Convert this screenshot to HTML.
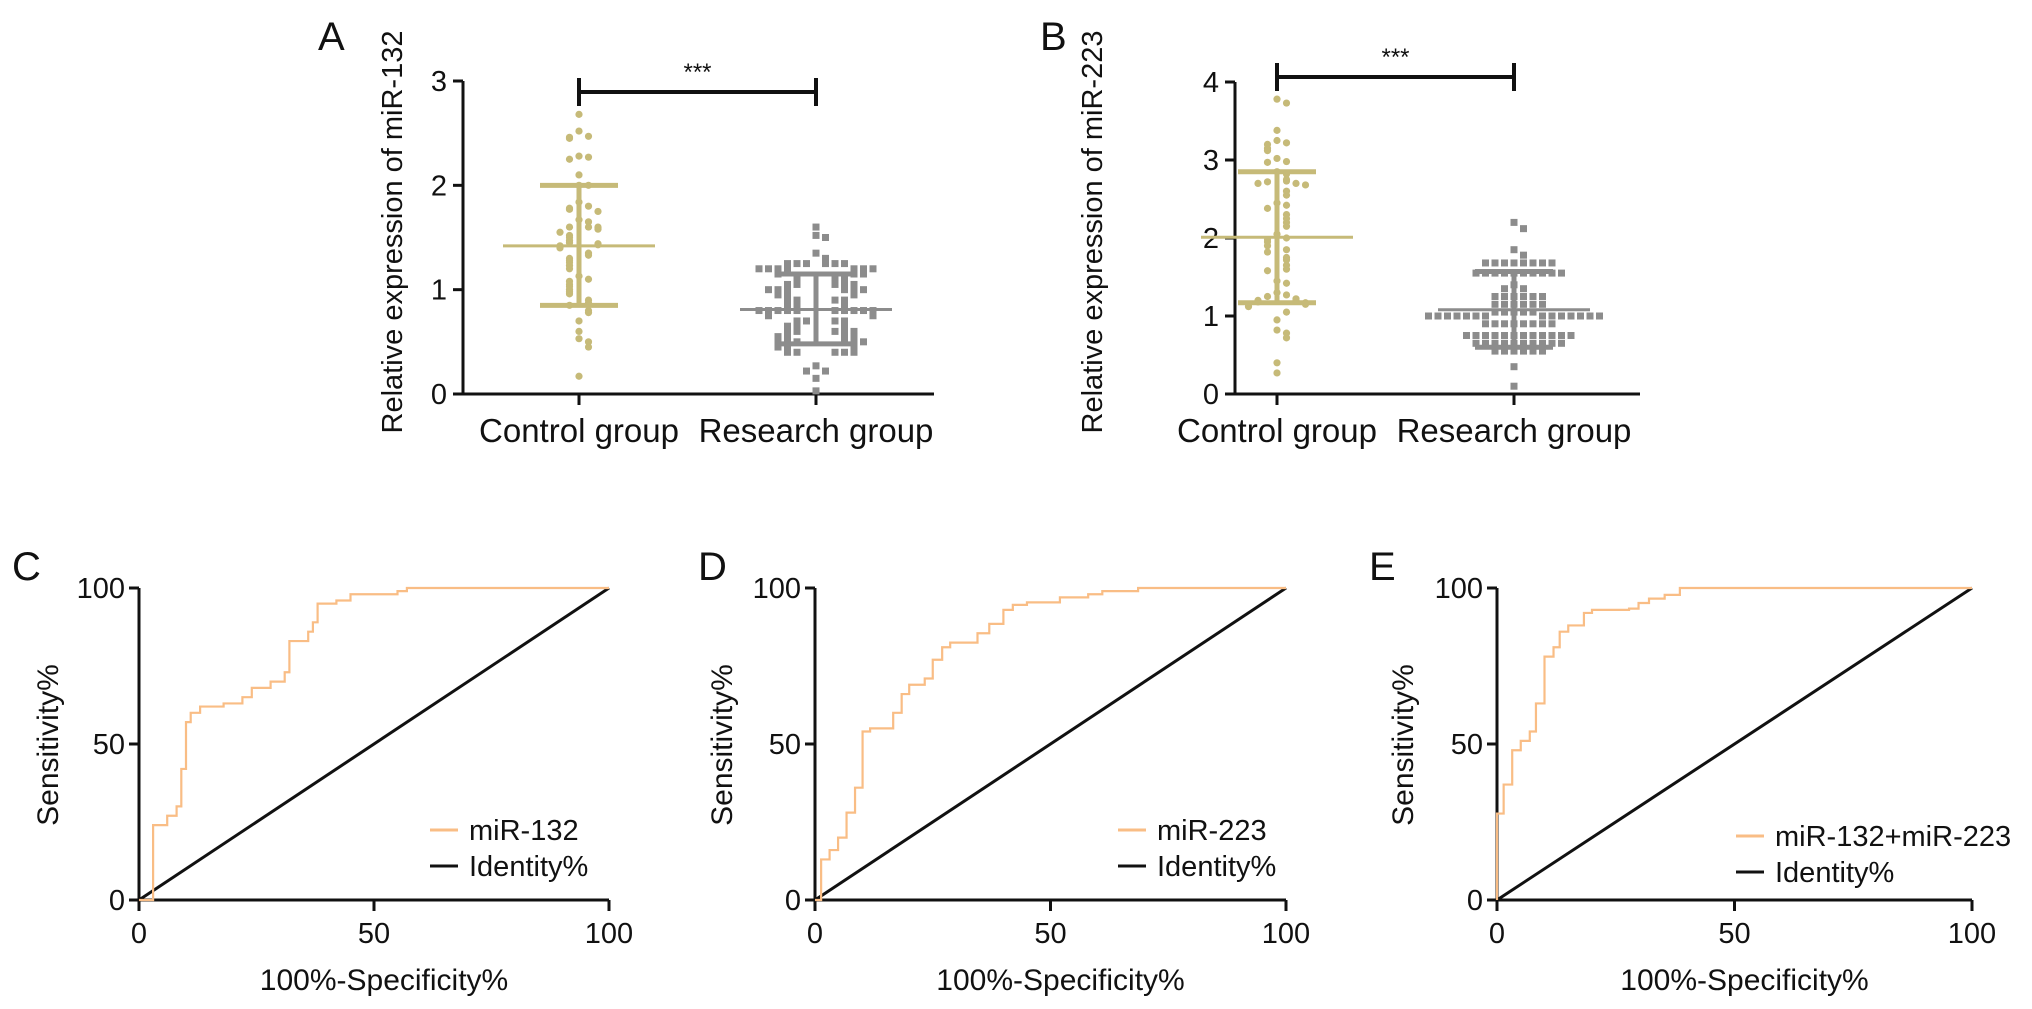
<!DOCTYPE html>
<html><head><meta charset="utf-8">
<style>
html,body{margin:0;padding:0;background:#fff;}
svg{display:block;font-family:"Liberation Sans",Arial,sans-serif;}
</style></head>
<body>
<svg id="fig" width="2032" height="1009" viewBox="0 0 2032 1009" xmlns="http://www.w3.org/2000/svg"></svg>
<script>
// ---------- Data ----------
const groups = ["Control group","Research group"];
const aControl = [2.68,2.52,2.47,2.46,2.45,2.28,2.25,2.27,2.1,2.0,2.0,1.84,1.8,1.78,1.77,1.75,1.67,1.65,1.6,1.6,1.6,1.58,1.55,1.52,1.5,1.47,1.45,1.44,1.43,1.42,1.4,1.35,1.33,1.3,1.28,1.26,1.23,1.2,1.13,1.1,1.08,1.05,1.03,1.0,0.98,0.96,0.9,0.87,0.85,0.8,0.78,0.7,0.6,0.53,0.5,0.45,0.17];
const aResearch = [1.6,1.52,1.5,1.35,1.3,1.25,1.25,1.25,1.25,1.25,1.25,1.2,1.2,1.2,1.2,1.2,1.2,1.2,1.15,1.15,1.15,1.1,1.1,1.1,1.05,1.05,1.05,1.05,1.05,1.0,1.0,1.0,1.0,1.0,1.0,0.95,0.95,0.95,0.9,0.9,0.9,0.9,0.85,0.85,0.85,0.8,0.8,0.8,0.8,0.8,0.8,0.8,0.8,0.8,0.8,0.75,0.75,0.7,0.7,0.7,0.7,0.65,0.65,0.65,0.6,0.6,0.6,0.6,0.6,0.55,0.55,0.55,0.55,0.5,0.5,0.5,0.5,0.5,0.5,0.45,0.45,0.45,0.4,0.4,0.4,0.4,0.4,0.27,0.22,0.22,0.15,0.03];
const aStats = {control:[1.42,2.0,0.85], research:[0.81,1.15,0.48]};
const bControl = [3.78,3.73,3.38,3.25,3.22,3.2,3.15,3.12,3.02,2.98,2.97,2.85,2.82,2.75,2.73,2.72,2.7,2.7,2.68,2.6,2.55,2.45,2.42,2.38,2.3,2.25,2.2,2.15,2.05,2.0,1.98,1.95,1.9,1.85,1.82,1.75,1.72,1.65,1.6,1.58,1.45,1.42,1.3,1.27,1.25,1.22,1.2,1.2,1.18,1.17,1.15,1.15,1.12,1.05,0.95,0.82,0.78,0.72,0.4,0.27];
const bResearch = [2.2,2.12,1.85,1.78,1.68,1.68,1.68,1.68,1.68,1.68,1.68,1.68,1.55,1.55,1.55,1.55,1.55,1.55,1.55,1.55,1.55,1.55,1.4,1.35,1.35,1.25,1.25,1.25,1.25,1.25,1.25,1.15,1.15,1.15,1.15,1.15,1.15,1.05,1.05,1.05,1.05,1.05,1.0,1.0,1.0,1.0,1.0,1.0,1.0,1.0,1.0,1.0,1.0,1.0,1.0,1.0,0.9,0.9,0.9,0.9,0.9,0.9,0.9,0.9,0.75,0.75,0.75,0.75,0.75,0.75,0.75,0.75,0.75,0.75,0.75,0.75,0.65,0.65,0.65,0.65,0.65,0.65,0.65,0.65,0.65,0.65,0.55,0.55,0.55,0.55,0.55,0.55,0.35,0.1];
const bStats = {control:[2.01,2.85,1.17], research:[1.08,1.57,0.6]};
const aTicks = [0,1,2,3];
const bTicks = [0,1,2,3,4];
const rocTicks = [0,50,100];
const rocCx = [0,3,3,6,8,9,10,11,13,18,22,24,28,31,32,36,37,38,42,45,55,57,100];
const rocCy = [0,0,24,27,30,42,57,60,62,63,65,68,70,73,83,86,89,95,96,98,99,100,100];
const rocDx = [0,1.3,3.1,4.9,6.7,8.5,10.1,11.7,16.6,18.4,20,23.3,25,27,28.7,34.5,37,40,42,45,52,58,61,68.6,100];
const rocDy = [0,13,16,20,28,36,54,55,60,66,69,71,77,81,82.5,85.5,88.5,93,94.6,95.4,97,98,99,100,100];
const rocEx = [0,0,1.4,3.2,5,6.9,8.2,10,11.9,13.2,15,18.3,20,27.8,29.8,32,35.3,38.5,100];
const rocEy = [0,27.7,37,48,51,54,63,78,81,86,88,92,93,93.4,95.2,96.6,97.8,100,100];

// ---------- helpers ----------
const NS="http://www.w3.org/2000/svg";
const svg=document.getElementById('fig');
function mk(tag,attrs,parent){const e=document.createElementNS(NS,tag);for(const k in attrs)e.setAttribute(k,attrs[k]);(parent||svg).appendChild(e);return e;}
function txt(s,attrs,parent){const e=mk('text',attrs,parent);e.textContent=s;return e;}
const CTRL="#c6ba78", RES="#8c8c8c", ORANGE="#f9bd85";

[["A",318,50],["B",1040,50],["C",12,580],["D",698,580],["E",1369,580]].forEach(p=>{
  const t=txt(p[0],{x:p[1],y:p[2],'font-size':40,fill:'#111'});
  
  
});

function scatter(cfg){
  const g=mk('g',{});
  
  
  const yS=v=>cfg.y0-(v/cfg.ymax)*(cfg.y0-cfg.ytop);
  const ya=mk('line',{x1:cfg.ax,y1:cfg.ytop,x2:cfg.ax,y2:cfg.y0,stroke:'#111','stroke-width':3},g);
  
  const xa=mk('line',{x1:cfg.ax-10,y1:cfg.y0,x2:cfg.xend,y2:cfg.y0,stroke:'#111','stroke-width':3},g);
  
  cfg.ticks.forEach(t=>{
    const y=yS(t);
    mk('line',{x1:cfg.ax-10,y1:y,x2:cfg.ax,y2:y,stroke:'#111','stroke-width':3},g);
    const l=txt(String(t),{x:cfg.ax-16,y:y+10,'font-size':29,'text-anchor':'end',fill:'#111'},g);
    
  });
  const xs=[cfg.cx,cfg.rx];
  groups.forEach((gname,i)=>{
    mk('line',{x1:xs[i],y1:cfg.y0,x2:xs[i],y2:cfg.y0+11,stroke:'#111','stroke-width':3},g);
    const l=txt(gname,{x:xs[i],y:cfg.y0+48,'font-size':33,'text-anchor':'middle',fill:'#111'},g);
    
  });
  const yt=txt(cfg.ytitle,{x:0,y:0,'font-size':29,'text-anchor':'middle',fill:'#111',transform:`translate(${cfg.tx},${(cfg.y0+10)/2+30}) rotate(-90)`},g);
  
  function swarm(vals,x,color,square,name){
    const placed=[];
    const sorted=vals.slice().sort((a,b)=>b-a);
    sorted.forEach(v=>{
      const y=yS(v);
      let k=placed.filter(p=>Math.abs(p-y)<7).length;
      placed.push(y);
      const off=(k===0?0:(k%2?1:-1)*Math.ceil(k/2))*9.5;
      let e;
      if(square){e=mk('rect',{x:x+off-3.5,y:y-3.5,width:7,height:7,fill:color},g);}
      else{e=mk('circle',{cx:x+off,cy:y,r:3.6,fill:color},g);}
      
      
    });
  }
  swarm(cfg.cvals,cfg.cx,CTRL,false,'control-point');
  swarm(cfg.rvals,cfg.rx,RES,true,'research-point');
  function stat(s,x,color,name){
    const e=mk('g',{},g);
    
    mk('line',{x1:x,y1:yS(s[1]),x2:x,y2:yS(s[2]),stroke:color,'stroke-width':5},e);
    mk('line',{x1:x-39,y1:yS(s[1]),x2:x+39,y2:yS(s[1]),stroke:color,'stroke-width':5},e);
    mk('line',{x1:x-39,y1:yS(s[2]),x2:x+39,y2:yS(s[2]),stroke:color,'stroke-width':5},e);
    mk('line',{x1:x-76,y1:yS(s[0]),x2:x+76,y2:yS(s[0]),stroke:color,'stroke-width':3},e);
  }
  stat(cfg.stats.control,cfg.cx,CTRL,'control-mean-sd');
  stat(cfg.stats.research,cfg.rx,RES,'research-mean-sd');
  const sg=mk('g',{},g);
  
  mk('line',{x1:cfg.cx,y1:cfg.sy,x2:cfg.rx,y2:cfg.sy,stroke:'#111','stroke-width':4},sg);
  mk('line',{x1:cfg.cx,y1:cfg.sy-14,x2:cfg.cx,y2:cfg.sy+14,stroke:'#111','stroke-width':4},sg);
  mk('line',{x1:cfg.rx,y1:cfg.sy-14,x2:cfg.rx,y2:cfg.sy+14,stroke:'#111','stroke-width':4},sg);
  txt('***',{x:(cfg.cx+cfg.rx)/2,y:cfg.sy-12,'font-size':24,'text-anchor':'middle',fill:'#111'},sg);
}
scatter({name:'panel-a-scatter',ax:463,y0:394,ytop:81,ymax:3,xend:934,cx:579,rx:816,ticks:aTicks,cvals:aControl,rvals:aResearch,stats:aStats,sy:92,tx:402,ytitle:'Relative expression of miR-132'});
scatter({name:'panel-b-scatter',ax:1235,y0:394,ytop:82,ymax:4,xend:1640,cx:1277,rx:1514,ticks:bTicks,cvals:bControl,rvals:bResearch,stats:bStats,sy:77,tx:1102,ytitle:'Relative expression of miR-223'});

function roc(cfg){
  const g=mk('g',{});
  
  const xS=v=>cfg.x0+v/100*(cfg.x1-cfg.x0);
  const yS=v=>900-v/100*(900-588);
  const ya=mk('line',{x1:cfg.x0,y1:588,x2:cfg.x0,y2:901,stroke:'#111','stroke-width':3},g);
  
  const xa=mk('line',{x1:cfg.x0-10,y1:900,x2:cfg.x1,y2:900,stroke:'#111','stroke-width':3},g);
  
  rocTicks.forEach(t=>{
    mk('line',{x1:cfg.x0-10,y1:yS(t),x2:cfg.x0,y2:yS(t),stroke:'#111','stroke-width':3},g);
    const l=txt(String(t),{x:cfg.x0-14,y:yS(t)+10,'font-size':29,'text-anchor':'end',fill:'#111'},g);
    
    mk('line',{x1:xS(t),y1:900,x2:xS(t),y2:911,stroke:'#111','stroke-width':3},g);
    const m=txt(String(t),{x:xS(t),y:943,'font-size':29,'text-anchor':'middle',fill:'#111'},g);
    
  });
  const xt=txt('100%-Specificity%',{x:(cfg.x0+cfg.x1)/2+10,y:990,'font-size':30,'text-anchor':'middle',fill:'#111'},g);
  
  const yt=txt('Sensitivity%',{x:0,y:0,'font-size':30,'text-anchor':'middle',fill:'#111',transform:`translate(${cfg.tx},745) rotate(-90)`},g);
  
  const id=mk('line',{x1:xS(0),y1:yS(0),x2:xS(100),y2:yS(100),stroke:'#111','stroke-width':3},g);
  
  let d=`M${xS(cfg.xs[0])},${yS(cfg.ys[0])}`;
  for(let i=1;i<cfg.xs.length;i++){d+=` L${xS(cfg.xs[i])},${yS(cfg.ys[i-1])} L${xS(cfg.xs[i])},${yS(cfg.ys[i])}`;}
  const p=mk('path',{d:d,fill:'none',stroke:ORANGE,'stroke-width':2.2},g);
  
  const lg=mk('g',{},g);
  
  mk('line',{x1:cfg.lx,y1:cfg.ly,x2:cfg.lx+28,y2:cfg.ly,stroke:ORANGE,'stroke-width':3},lg);
  txt(cfg.label,{x:cfg.lx+39,y:cfg.ly+10,'font-size':29,fill:'#111'},lg);
  mk('line',{x1:cfg.lx,y1:cfg.ly+36,x2:cfg.lx+28,y2:cfg.ly+36,stroke:'#111','stroke-width':3},lg);
  txt('Identity%',{x:cfg.lx+39,y:cfg.ly+46,'font-size':29,fill:'#111'},lg);
}
roc({name:'panel-c-roc',x0:139,x1:609,tx:58,xs:rocCx,ys:rocCy,label:'miR-132',lx:430,ly:830});
roc({name:'panel-d-roc',x0:815,x1:1286,tx:732,xs:rocDx,ys:rocDy,label:'miR-223',lx:1118,ly:830});
roc({name:'panel-e-roc',x0:1497,x1:1972,tx:1413,xs:rocEx,ys:rocEy,label:'miR-132+miR-223',lx:1736,ly:836});
</script>
</body></html>
